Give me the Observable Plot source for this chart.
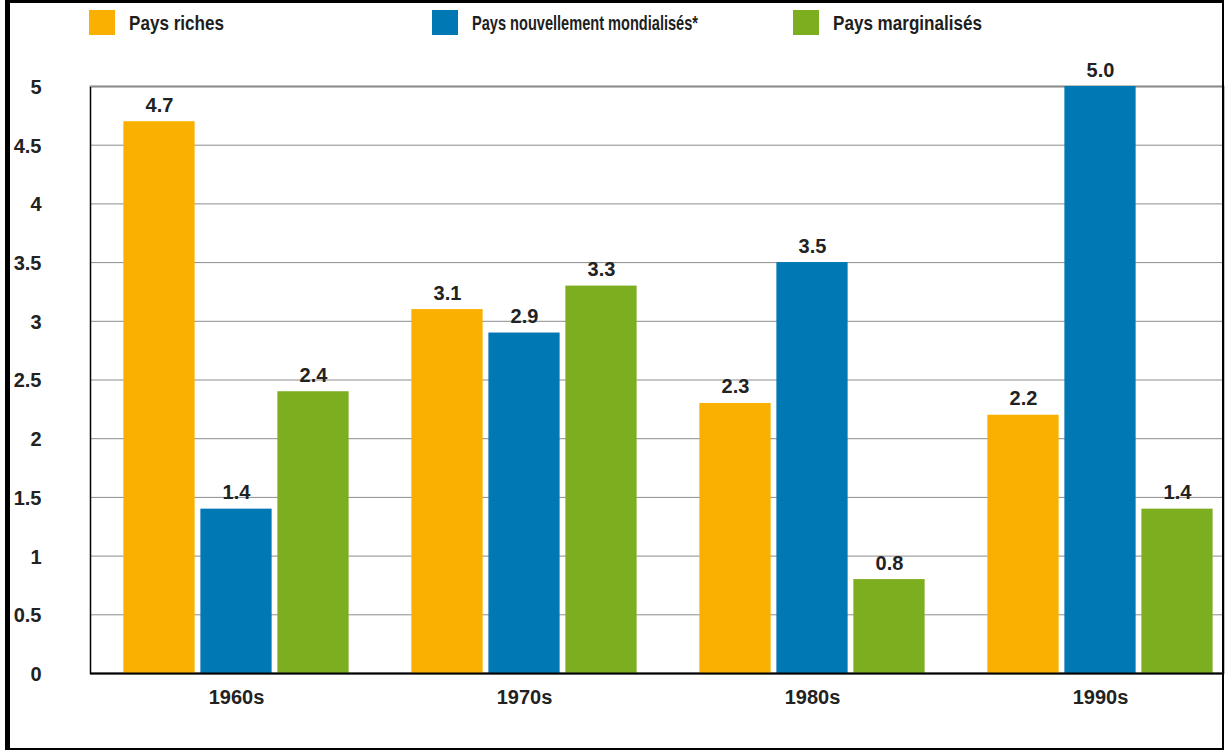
<!DOCTYPE html>
<html>
<head>
<meta charset="utf-8">
<script src="https://cdn.jsdelivr.net/npm/d3@7"></script>
<script src="https://cdn.jsdelivr.net/npm/@observablehq/plot@0.6"></script>
<style>
  html, body { margin: 0; padding: 0; background: #fff; }
  #wrap { position: relative; width: 1225px; height: 751px; overflow: hidden; background: #fff; }
  #wrap svg { position: absolute; left: 0; top: 0; }
  #border { position: absolute; left: 5px; top: 0; width: 1219px; height: 750px; box-sizing: border-box;
            border-left: 5px solid #000; border-top: 3px solid #000; border-right: 2px solid #000; border-bottom: 2px solid #000; pointer-events: none; }
  .leg { position: absolute; top: 10px; display: flex; align-items: center; height: 25px; white-space: nowrap; }
  .leg .sw { width: 26px; height: 25px; margin-right: 14px; flex: none; }
  .leg .lb { display: inline-block; font-family: "Liberation Sans", Arial, sans-serif;
             font-weight: bold; font-size: 21px; color: #1e1e1e; transform-origin: left center; }
</style>
</head>
<body>
<div id="wrap"></div>
<script>
// ---- data ----
const decades = ["1960s", "1970s", "1980s", "1990s"];
const seriesNames = ["Pays riches", "Pays nouvellement mondialisés*", "Pays marginalisés"];
const seriesColors = ["#F9B000", "#0078B4", "#7DAE20"];
const richValues = [4.7, 3.1, 2.3, 2.2];
const globalizedValues = [1.4, 2.9, 3.5, 5.0];
const marginalValues = [2.4, 3.3, 0.8, 1.4];
const yTicks = [0, 0.5, 1, 1.5, 2, 2.5, 3, 3.5, 4, 4.5, 5];

const seriesValues = [richValues, globalizedValues, marginalValues];
const rows = seriesNames.map((s, i) => decades.map((d, j) => ({decade: d, series: s, value: seriesValues[i][j]})));

// ---- layout ----
const barOffsets = [-77, 0, 77];
const barWidth = 72;
const bandRange = [90, 1245];
const bandwidth = (bandRange[1] - bandRange[0]) / decades.length;
const inset = (bandwidth - barWidth) / 2;
const font = "'Liberation Sans', Arial, sans-serif";

const marks = [
  Plot.gridY(yTicks, {stroke: "#8c8c8c", strokeOpacity: 1, strokeWidth: 1}),
  Plot.frame({stroke: "#000", strokeWidth: 1.5}),
  Plot.gridY([5], {stroke: "#8c8c8c", strokeOpacity: 1, strokeWidth: 1.2}),
];
rows.forEach((data, i) => {
  marks.push(Plot.barY(data, {x: "decade", y: "value", fill: seriesColors[i], insetLeft: inset, insetRight: inset, dx: barOffsets[i]}));
  marks.push(Plot.text(data, {x: "decade", y: "value", text: d => d.value.toFixed(1), dx: barOffsets[i], dy: -10,
    lineAnchor: "bottom", fontSize: 20, fontWeight: "bold", fill: "#222", fontFamily: font}));
});
marks.push(Plot.ruleY([0], {stroke: "#000", strokeWidth: 2}));
marks.push(Plot.axisY(yTicks, {tickSize: 0, tickPadding: 49, fontSize: 20, fontWeight: "bold", fill: "#222",
  fontFamily: font, tickFormat: d => String(d), dy: 1}));
marks.push(Plot.axisX({tickSize: 0, tickPadding: 16, fontSize: 20, fontWeight: "bold", fill: "#222", fontFamily: font}));

const chart = Plot.plot({
  width: 1225,
  height: 751,
  marginLeft: 90,
  marginRight: 2,
  marginTop: 86,
  marginBottom: 78,
  style: {background: "transparent", overflow: "visible"},
  x: {domain: decades, range: bandRange, padding: 0, label: null},
  y: {domain: [0, 5], label: null},
  marks
});

const wrap = document.getElementById("wrap");
wrap.appendChild(chart);

// legend (condensed label widths fitted to the original layout)
const legendLefts = [89, 432, 793];
const legendTextWidths = [95, 226, 149];
seriesNames.forEach((s, i) => {
  const item = document.createElement("div");
  item.className = "leg";
  item.style.left = legendLefts[i] + "px";
  const sw = document.createElement("div");
  sw.className = "sw";
  sw.style.background = seriesColors[i];
  const lb = document.createElement("span");
  lb.className = "lb";
  lb.textContent = s;
  item.appendChild(sw);
  item.appendChild(lb);
  wrap.appendChild(item);
  const natural = lb.getBoundingClientRect().width;
  lb.style.transform = `scaleX(${legendTextWidths[i] / natural})`;
});

const border = document.createElement("div");
border.id = "border";
wrap.appendChild(border);
</script>
</body>
</html>
